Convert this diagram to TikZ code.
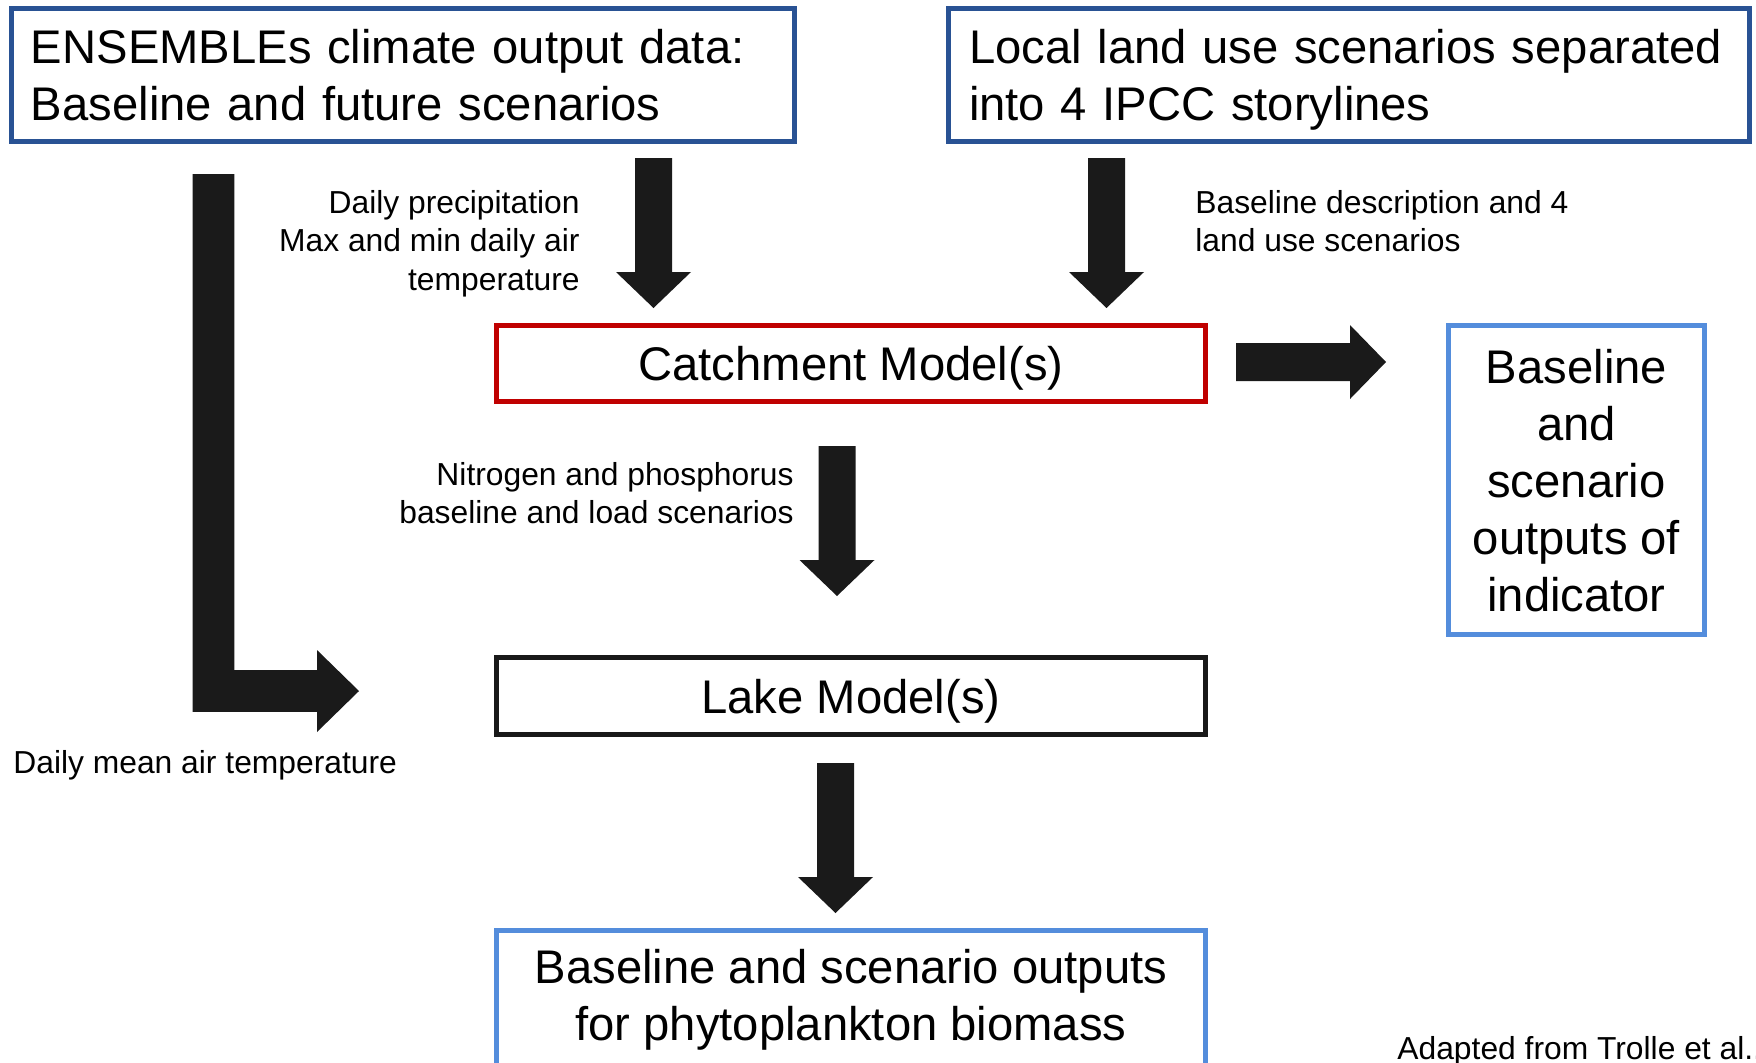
\documentclass[tikz,border=0pt]{standalone}
\usepackage{fontspec}
\setmainfont{Liberation Sans}
\usetikzlibrary{calc}

\definecolor{framedark}{RGB}{41,82,148}
\definecolor{framered}{RGB}{192,0,0}
\definecolor{framelight}{RGB}{84,141,220}
\definecolor{arrowink}{RGB}{26,26,26}

\newcommand\boxfont{\fontsize{23.6}{28.5}\selectfont}
\newcommand\notefont{\fontsize{15.9}{19.25}\selectfont}
\newcommand\boxstrut{\rule[-5.75pt]{0pt}{28.5pt}}
\newcommand\notestrut{\rule[-5.75pt]{0pt}{19.25pt}}

\tikzset{
  frame/.style={draw, line width=2.3pt, inner sep=0pt, fill=white, font=\boxfont, text=black},
  topframe/.style={frame, draw=framedark, align=left, minimum height=66.7pt},
  smalltext/.style={inner sep=0pt, font=\notefont, text=black},
  blockfill/.style={fill=arrowink},
  downblock/.style={to path={let \p1=(\tikztostart), \p2=(\tikztotarget) in
      (\x1-9.25pt,\y1) -- (\x1+9.25pt,\y1) -- (\x1+9.25pt,\y2+18pt) -- (\x1+18.75pt,\y2+18pt)
      -- (\x1,\y2) -- (\x1-18.75pt,\y2+18pt) -- (\x1-9.25pt,\y2+18pt) -- cycle}},
  rightblock/.style={to path={let \p1=(\tikztostart), \p2=(\tikztotarget) in
      (\x1,\y1+9.5pt) -- (\x2-18pt,\y1+9.5pt) -- (\x2-18pt,\y1+18.5pt) -- (\x2,\y1)
      -- (\x2-18pt,\y1-18.5pt) -- (\x2-18pt,\y1-9.5pt) -- (\x1,\y1-9.5pt) -- cycle}},
  elbowblock/.style={to path={let \p1=(\tikztostart), \p2=(\tikztotarget) in
      (\x1-10.4pt,\y1) -- (\x1+10.4pt,\y1) -- (\x1+10.4pt,\y2+10.4pt) -- (\x2-21pt,\y2+10.4pt)
      -- (\x2-21pt,\y2+20.5pt) -- (\x2,\y2) -- (\x2-21pt,\y2-20.5pt) -- (\x2-21pt,\y2-10.4pt)
      -- (\x1-10.4pt,\y2-10.4pt) -- cycle}},
}

\begin{document}
\begin{tikzpicture}[x=0.5pt, y=-0.5pt]
\useasboundingbox (0,0) rectangle (1756,1062);
\fill[white] (0,0) rectangle (1756,1062);

% input boxes
\node[topframe, minimum width=391.7pt, text width=372pt, inner xsep=9.85pt] (ens) at (403,75)
  {\boxstrut\mbox{ENSEMBLEs climate output data:}\\\boxstrut\mbox{Baseline and future scenarios}};
\node[topframe, minimum width=400.7pt, text width=380pt, inner xsep=10.35pt] (land) at (1349,75)
  {\boxstrut\mbox{Local land use scenarios separated}\\\boxstrut\mbox{into 4 IPCC storylines}};

% models
\node[frame, draw=framered, minimum width=354.7pt, minimum height=38.2pt] (catch) at (851,363.5)
  {\boxstrut Catchment Model(s)};
\node[frame, draw=black!90, minimum width=354.7pt, minimum height=38.7pt] (lake) at (851,696)
  {\boxstrut Lake Model(s)};

% outputs
\node[frame, draw=framelight, minimum width=128.2pt, minimum height=154.7pt, align=center] (out1) at (1576.5,480)
  {\boxstrut Baseline\\\boxstrut and\\\boxstrut scenario\\\boxstrut outputs of\\\boxstrut indicator};
\node[frame, draw=framelight, minimum width=354.7pt, minimum height=88.7pt] (bio) at (851,1019) {};
\node[inner sep=0pt, font=\boxfont, align=center, anchor=north] (biotext) at (851,937.5)
  {\boxstrut Baseline and scenario outputs\\\boxstrut for phytoplankton biomass};

% arrow columns
\coordinate (colA) at (653.5,0);
\coordinate (colB) at (1106.5,0);
\coordinate (colC) at (837,0);
\coordinate (colD) at (835.5,0);
\coordinate (colL) at (213.5,0);

\coordinate (a1s) at ($(ens.south -| colA)+(0,-7pt)$);
\coordinate (a1t) at ($(catch.north -| colA)+(0,7.5pt)$);
\coordinate (a2s) at ($(land.south -| colB)+(0,-7pt)$);
\coordinate (a2t) at ($(catch.north -| colB)+(0,7.5pt)$);
\coordinate (a3s) at ($(ens.south -| colL)+(0,-15pt)$);
\coordinate (a3t) at ($(lake.west)+(-67.5pt,2.5pt)$);
\coordinate (a4s) at ($(catch.east)+(14pt,0.75pt)$);
\coordinate (a4t) at ($(a4s -| out1.west)+(-30pt,0)$);
\coordinate (a5s) at ($(catch.south -| colC)+(0,-21pt)$);
\coordinate (a5t) at ($(lake.north -| colC)+(0,29.5pt)$);
\coordinate (a6s) at ($(lake.south -| colD)+(0,-13pt)$);
\coordinate (a6t) at ($(bio.north -| colD)+(0,7.5pt)$);

% block arrows
\path[blockfill] (a1s) to[downblock] (a1t);
\path[blockfill] (a2s) to[downblock] (a2t);
\path[blockfill] (a3s) to[elbowblock] (a3t);
\path[blockfill] (a4s) to[rightblock] (a4t);
\path[blockfill] (a5s) to[downblock] (a5t);
\path[blockfill] (a6s) to[downblock] (a6t);

% flow annotations
\node[smalltext, align=right, anchor=north east] (climvars) at (580,186)
  {\notestrut Daily precipitation\\\notestrut Max and min daily air\\\notestrut temperature};
\node[smalltext, align=left, anchor=north west] (landvars) at (1195,186)
  {\notestrut Baseline description and 4\\\notestrut land use scenarios};
\node[smalltext, align=right, anchor=north east] (nutvars) at (794,458)
  {\notestrut Nitrogen and phosphorus\\\notestrut baseline and load scenarios};
\node[smalltext, anchor=base west] (tempvar) at (13,773) {Daily mean air temperature};
\node[smalltext, anchor=base west] (credit) at (1397,1059) {Adapted from Trolle et al..};
\end{tikzpicture}
\end{document}
